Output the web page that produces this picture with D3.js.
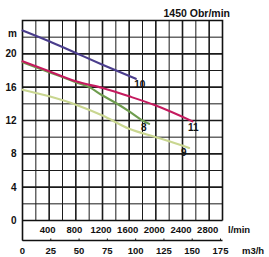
<!DOCTYPE html>
<html>
<head>
<meta charset="utf-8">
<script src="https://cdn.jsdelivr.net/npm/d3@7"></script>
<style>
body{margin:0;background:#fff;}
text{font-family:"Liberation Sans",Arial,sans-serif;font-weight:bold;fill:#111;}
</style>
</head>
<body>
<div id="chart"></div>
<script>
// pump curves, flow in l/min, head in m
var flow10 = [0, 400, 800, 1200, 1700],
    head10 = [22.8, 21.5, 20.1, 18.7, 17.0];
var flow11 = [0, 400, 800, 1200, 1600, 2000, 2550],
    head11 = [19.1, 17.9, 16.7, 15.9, 14.9, 13.8, 11.9];
var flow8 = [0, 400, 800, 1000, 1200, 1400, 1600, 1800, 1900],
    head8 = [19.0, 17.8, 16.6, 16.0, 15.0, 14.1, 13.1, 12.0, 11.6];
var flow9 = [0, 400, 800, 1200, 1600, 2000, 2200, 2500],
    head9 = [15.7, 14.9, 13.9, 12.6, 11.0, 10.0, 9.5, 8.7];

var curveNames = ["10", "11", "8", "9"];
var curveColors = ["#4a3d8c", "#c41a5e", "#6e9c4e", "#c9d690"];
var labelAt = [[1760, 15.95], [2560, 10.7], [1820, 10.7], [2420, 7.8]]; // label anchor (l/min, m)

var yTicks = [0, 4, 8, 12, 16, 20];
var lminTicks = [400, 800, 1200, 1600, 2000, 2400, 2800];
var m3hTicks = [0, 25, 50, 75, 100, 125, 150, 175];

var width = 269, height = 257;
var svg = d3.select("#chart").append("svg")
  .attr("width", width).attr("height", height);

var x = d3.scaleLinear().domain([0, 3000]).range([22.5, 222.5]);
var y = d3.scaleLinear().domain([0, 24]).range([220.5, 20.5]);
var xm = d3.scaleLinear().domain([0, 175]).range([22.5, 220.5]);

// grid
var grid = svg.append("g");
d3.range(200, 3000, 200).forEach(function(q){
  grid.append("line")
    .attr("x1", x(q)).attr("x2", x(q)).attr("y1", y(24)).attr("y2", y(0))
    .attr("stroke", "#1a1a1a").attr("stroke-width", q % 400 == 0 ? 1.6 : 1);
});
d3.range(2, 24, 2).forEach(function(h){
  grid.append("line")
    .attr("x1", x(0)).attr("x2", x(3000)).attr("y1", y(h)).attr("y2", y(h))
    .attr("stroke", "#1a1a1a").attr("stroke-width", h % 4 == 0 ? 1.6 : 1);
});

// frame
var frame = svg.append("g").attr("stroke", "#111").attr("stroke-width", 1.6).attr("fill", "none");
frame.append("path").attr("d", "M" + x(0) + "," + 240.5 + "V" + y(24) + "H" + x(3000) + "V" + y(0));
frame.append("line").attr("x1", x(0)).attr("x2", x(3000)).attr("y1", y(0)).attr("y2", y(0));
frame.append("line").attr("x1", x(0)).attr("x2", x(3000)).attr("y1", 240.5).attr("y2", 240.5);
m3hTicks.forEach(function(t){
  frame.append("line").attr("x1", xm(t)).attr("x2", xm(t)).attr("y1", 240.5).attr("y2", 238.5).attr("stroke-width", 1);
});

// curves
var line = d3.line()
  .x(function(d){ return x(d[0]); })
  .y(function(d){ return y(d[1]); })
  .curve(d3.curveMonotoneX);

var series = [[flow10, head10], [flow11, head11], [flow8, head8], [flow9, head9]];
// draw light ones first
[3, 2, 1, 0].forEach(function(i){
  var pts = series[i][0].map(function(q, k){ return [q, series[i][1][k]]; });
  svg.append("path")
    .datum(pts)
    .attr("fill", "none")
    .attr("stroke", curveColors[i])
    .attr("stroke-width", 2.1)
    .attr("stroke-linecap", "round")
    .attr("d", line);
});

curveNames.forEach(function(n, i){
  svg.append("text")
    .attr("x", x(labelAt[i][0])).attr("y", y(labelAt[i][1]))
    .attr("text-anchor", "middle")
    .style("font-size", "10px")
    .text(n);
});

// y labels
yTicks.forEach(function(t){
  svg.append("text")
    .attr("x", 16.5).attr("y", y(t) + 3.6)
    .attr("text-anchor", "end")
    .style("font-size", "10px")
    .text(t);
});
svg.append("text").attr("x", 12.5).attr("y", 37).attr("text-anchor", "middle")
  .style("font-size", "10px").text("m");

// bottom labels
lminTicks.forEach(function(t){
  svg.append("text")
    .attr("x", x(t) - 1.5).attr("y", 233)
    .attr("text-anchor", "middle")
    .style("font-size", "9.5px")
    .text(t);
});
svg.append("text").attr("x", 228).attr("y", 233).style("font-size", "9.5px").text("l/min");

m3hTicks.forEach(function(t){
  svg.append("text")
    .attr("x", xm(t)).attr("y", 254)
    .attr("text-anchor", "middle")
    .style("font-size", "9.5px")
    .text(t);
});
svg.append("text").attr("x", 242).attr("y", 254).style("font-size", "9.5px").text("m3/h");

svg.append("text").attr("x", 230).attr("y", 17).attr("text-anchor", "end")
  .style("font-size", "10.5px").text("1450 Obr/min");
</script>
</body>
</html>
